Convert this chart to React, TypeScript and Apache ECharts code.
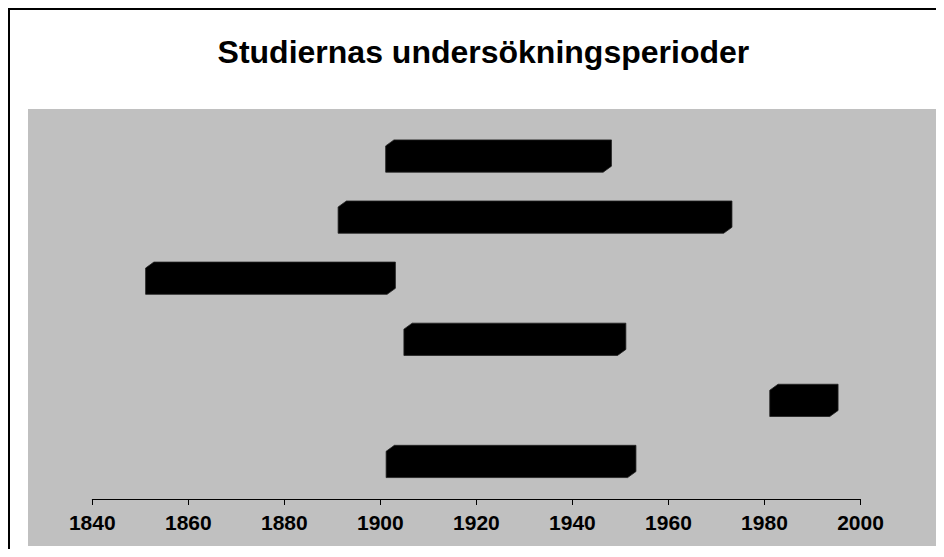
import React, { useEffect, useRef } from "react";
import * as echarts from "echarts";

const titleText = "Studiernas undersökningsperioder";
const studies = ["1", "2", "3", "4", "5", "6"];
const startYears = [1901.1, 1891.2, 1851.1, 1904.9, 1981.1, 1901.2];
const endYears = [1946.4, 1971.5, 1901.4, 1949.4, 1993.6, 1951.5];
const axisMin = 1840;
const axisMax = 2000;
const axisStep = 20;

const FONT = 'Arial, "Liberation Sans", sans-serif';

export default function App() {
  const ref = useRef<HTMLDivElement>(null);
  useEffect(() => {
    if (!ref.current) return;
    const chart = echarts.init(ref.current, undefined, { renderer: "svg" });
    const data = studies.map((s, i) => [i, startYears[i], endYears[i]]);
    chart.setOption({
      animation: false,
      backgroundColor: "#ffffff",
      grid: { left: 84.3, right: 83.5, top: 120.5, bottom: 54, containLabel: false },
      xAxis: {
        type: "value",
        min: axisMin,
        max: axisMax,
        interval: axisStep,
        offset: 4,
        splitLine: { show: false },
        axisLine: { show: true, lineStyle: { color: "#000", width: 1 } },
        axisTick: { show: true, inside: false, length: 6, lineStyle: { color: "#000", width: 1 } },
        axisLabel: {
          color: "#000",
          fontFamily: FONT,
          fontWeight: "bold",
          fontSize: 21,
          margin: 13,
          formatter: (v: number) => String(v),
        },
      },
      yAxis: {
        type: "category",
        data: studies,
        inverse: true,
        show: false,
      },
      graphic: [
        {
          type: "rect",
          z: -10,
          silent: true,
          shape: { x: 20, y: 101, width: 911, height: 437 },
          style: { fill: "#c0c0c0" },
        },
        {
          type: "line",
          silent: true,
          shape: { x1: 1, y1: 0, x2: 1, y2: 541 },
          style: { stroke: "#000", lineWidth: 2 },
        },
        {
          type: "line",
          silent: true,
          shape: { x1: 0, y1: 1, x2: 936, y2: 1 },
          style: { stroke: "#000", lineWidth: 2 },
        },
        {
          type: "text",
          x: 475.4,
          y: 44,
          style: {
            text: titleText,
            fill: "#000",
            font: `bold 32px ${FONT}`,
            textAlign: "center",
            textVerticalAlign: "middle",
          },
        },
      ],
      series: [
        {
          type: "custom",
          data,
          encode: { x: [1, 2], y: 0 },
          renderItem: (params: any, api: any) => {
            const cat = api.value(0);
            const p0 = api.coord([api.value(1), cat]);
            const p1 = api.coord([api.value(2), cat]);
            const band = api.size([0, 1])[1];
            const h = band * 0.43;
            const dx = 8.3;
            const dy = 6;
            const x0 = p0[0];
            const x1 = p1[0];
            const c = p0[1];
            const yT = c - h / 2;
            const yB = c + h / 2;
            return {
              type: "polygon",
              shape: {
                points: [
                  [x0, yT],
                  [x0 + dx, yT - dy],
                  [x1 + dx, yT - dy],
                  [x1 + dx, yB - dy],
                  [x1, yB],
                  [x0, yB],
                ],
              },
              style: { fill: "#000", stroke: "#222", lineWidth: 0.8 },
            };
          },
        },
      ],
    });
    return () => chart.dispose();
  }, []);
  return <div ref={ref} style={{ width: 936, height: 541 }} />;
}
